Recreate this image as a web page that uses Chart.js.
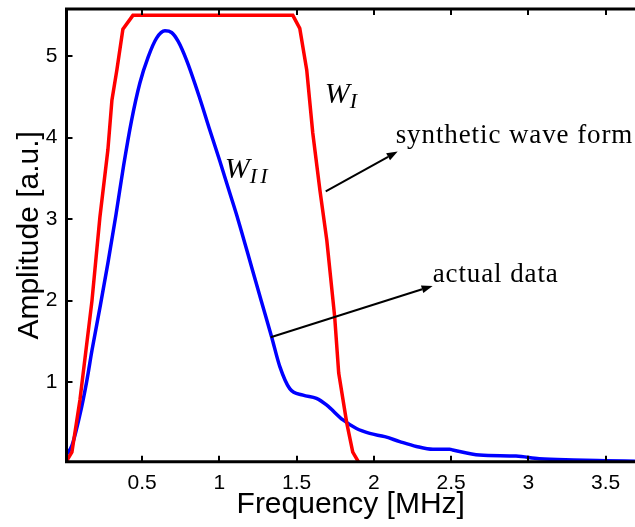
<!DOCTYPE html>
<html>
<head>
<meta charset="utf-8">
<script src="https://cdn.jsdelivr.net/npm/chart.js@4/dist/chart.umd.min.js"></script>
<style>
html,body{margin:0;padding:0;background:#fff;}
#wrap{width:635px;height:527px;}
</style>
</head>
<body>
<div id="wrap"><canvas id="c" width="635" height="527"></canvas></div>
<script>
// ---- data ----
const freqSynthetic = [0.01,0.045,0.097,0.175,0.226,0.278,0.304,0.336,0.375,0.44,1.475,1.52,1.565,1.604,1.65,1.695,1.746,1.772,1.824,1.863,1.90];
const ampSynthetic  = [0.03,0.14,0.78,2.0,3.02,3.85,4.46,4.83,5.33,5.5,5.5,5.34,4.83,4.06,3.36,2.74,1.80,1.11,0.50,0.14,0.02];

const freqActual = [0.006,0.045,0.097,0.14,0.175,0.23,0.278,0.33,0.38,0.43,0.485,0.539,0.593,0.647,0.69,0.733,0.787,0.873,0.938,1.003,1.067,1.121,1.21,1.27,1.337,1.391,1.455,1.541,1.628,1.693,1.80,1.887,1.973,2.07,2.167,2.275,2.382,2.49,2.51,2.684,2.92,3.07,3.29,3.50,3.69];
const ampActual  = [0.10,0.22,0.60,1.0,1.39,1.95,2.46,3.05,3.66,4.20,4.67,4.99,5.22,5.31,5.29,5.18,4.95,4.48,4.09,3.71,3.32,2.99,2.40,2.0,1.56,1.19,0.92,0.84,0.80,0.72,0.535,0.43,0.37,0.33,0.27,0.21,0.175,0.175,0.167,0.105,0.093,0.06,0.044,0.036,0.03];

const xTickValues = [0.5,1,1.5,2,2.5,3,3.5];
const yTickValues = [1,2,3,4,5];

const xLabel = 'Frequency [MHz]';
const yLabel = 'Amplitude [a.u.]';

// annotation texts and anchor points (data units)
const arrowLabels = ['synthetic wave form','actual data'];
const arrowFrom = [[1.688,3.34],[1.332,1.55]];
const arrowTo   = [[2.154,3.83],[2.38,2.18]];
const labelAt   = [[2.141,3.934],[2.38,2.228]];
const curveNames = [['W','I'],['W','II']];
const curveNameAt = [[1.682,4.42],[1.035,3.506]];

const toPts = (xs, ys) => xs.map((x,i)=>({x:x, y:ys[i]}));

const framePlugin = {
  id:'frame',
  afterDatasetsDraw(chart){
    const ctx = chart.ctx, a = chart.chartArea;
    const xs = chart.scales.x, ys = chart.scales.y;
    ctx.save();
    // arrows
    ctx.strokeStyle='#000'; ctx.fillStyle='#000'; ctx.lineWidth=2;
    for(let i=0;i<arrowFrom.length;i++){
      const x1=xs.getPixelForValue(arrowFrom[i][0]), y1=ys.getPixelForValue(arrowFrom[i][1]);
      const x2=xs.getPixelForValue(arrowTo[i][0]),   y2=ys.getPixelForValue(arrowTo[i][1]);
      const ang=Math.atan2(y2-y1,x2-x1), L=11, W=4;
      const bx=x2-L*Math.cos(ang), by=y2-L*Math.sin(ang);
      ctx.beginPath(); ctx.moveTo(x1,y1); ctx.lineTo(bx,by); ctx.stroke();
      ctx.beginPath(); ctx.moveTo(x2,y2);
      ctx.lineTo(bx+W*Math.sin(ang), by-W*Math.cos(ang));
      ctx.lineTo(bx-W*Math.sin(ang), by+W*Math.cos(ang));
      ctx.closePath(); ctx.fill();
    }
    // texts
    ctx.textBaseline='alphabetic'; ctx.textAlign='left';
    ctx.font='27px "Liberation Serif", "Times New Roman", serif';
    ctx.letterSpacing='0.9px';
    for(let i=0;i<arrowLabels.length;i++){
      ctx.fillText(arrowLabels[i], xs.getPixelForValue(labelAt[i][0]), ys.getPixelForValue(labelAt[i][1]));
    }
    ctx.letterSpacing='0px';
    for(let i=0;i<curveNames.length;i++){
      const px=xs.getPixelForValue(curveNameAt[i][0]), py=ys.getPixelForValue(curveNameAt[i][1]);
      ctx.font='italic 30px "Liberation Serif", "Times New Roman", serif';
      ctx.letterSpacing='0px';
      ctx.fillText(curveNames[i][0], px, py);
      const w=ctx.measureText(curveNames[i][0]).width;
      ctx.font='italic 22px "Liberation Serif", "Times New Roman", serif';
      ctx.letterSpacing='3px';
      ctx.fillText(curveNames[i][1], px+w, py+5);
    }
    ctx.letterSpacing='0px';
    // frame
    ctx.lineWidth=3; ctx.strokeStyle='#000';
    ctx.beginPath();
    ctx.moveTo(a.right, a.top); ctx.lineTo(a.left, a.top); ctx.lineTo(a.left, a.bottom); ctx.lineTo(a.right, a.bottom);
    ctx.stroke();
    ctx.lineWidth=2;
    const tl=6;
    xTickValues.forEach(v=>{
      const px=Math.round(xs.getPixelForValue(v));
      ctx.beginPath(); ctx.moveTo(px,a.bottom); ctx.lineTo(px,a.bottom-tl); ctx.stroke();
      ctx.beginPath(); ctx.moveTo(px,a.top); ctx.lineTo(px,a.top+tl); ctx.stroke();
    });
    yTickValues.forEach(v=>{
      const py=Math.round(ys.getPixelForValue(v));
      ctx.beginPath(); ctx.moveTo(a.left,py); ctx.lineTo(a.left+tl,py); ctx.stroke();
    });
    ctx.restore();
  }
};

const tickFont = {family:'"Liberation Sans", Arial, sans-serif', size:21};
const titleFont = {family:'"Liberation Sans", Arial, sans-serif', size:30};

function zeroPad(s){ s.paddingTop=0; s.paddingBottom=0; s.paddingLeft=0; s.paddingRight=0; }

new Chart(document.getElementById('c'), {
  type:'line',
  data:{
    datasets:[
      {data:toPts(freqSynthetic, ampSynthetic), borderColor:'#ff0000', borderWidth:3.5, pointRadius:0, tension:0, fill:false},
      {data:toPts(freqActual, ampActual), borderColor:'#0000ff', borderWidth:3.5, pointRadius:0, cubicInterpolationMode:'monotone', fill:false}
    ]
  },
  options:{
    responsive:false,
    animation:false,
    devicePixelRatio:1,
    layout:{padding:{top:9,right:0,left:0,bottom:0}},
    plugins:{legend:{display:false}, tooltip:{enabled:false}},
    scales:{
      x:{
        type:'linear', min:0.01, max:3.69,
        grid:{display:false, drawTicks:false},
        border:{display:false},
        afterBuildTicks(s){ s.ticks = xTickValues.map(v=>({value:v})); },
        afterFit(s){ s.height = 65.3; zeroPad(s); },
        ticks:{color:'#000', font:tickFont, padding:9, maxRotation:0, autoSkip:false,
               callback:(v)=>String(v)},
        title:{display:true, text:xLabel, color:'#000', font:titleFont, padding:{top:0,bottom:4}}
      },
      y:{
        type:'linear', min:0.023, max:5.578,
        grid:{display:false, drawTicks:false},
        border:{display:false},
        afterBuildTicks(s){ s.ticks = yTickValues.map(v=>({value:v})); },
        afterFit(s){ s.width = 66.5; zeroPad(s); },
        ticks:{color:'#000', font:tickFont, padding:9, callback:(v)=>String(v)},
        title:{display:true, text:yLabel, color:'#000', font:titleFont, padding:{top:12,bottom:0}}
      }
    }
  },
  plugins:[framePlugin]
});
</script>
</body>
</html>
